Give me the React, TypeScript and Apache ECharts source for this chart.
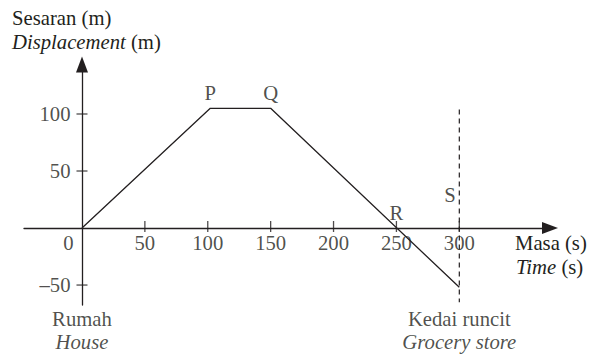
import React, { useEffect, useRef } from "react";
import * as echarts from "echarts";

// Displacement–time data (s, m)
const pathPoints: [number, number][] = [
  [0, 0],
  [102, 105],
  [150, 105],
  [300, -52],
];
const storeLine: [number, number][] = [
  [300, 104],
  [300, -65],
];
const xTickValues = [50, 100, 150, 200, 250, 300];
const originLabel = [0];
const yTickValues = [-50, 50, 100];
const topLabels: { name: string; value: [number, number] }[] = [
  { name: "P", value: [102, 105] },
  { name: "Q", value: [150, 105] },
  { name: "R", value: [250, 0] },
];
const sideLabels: { name: string; value: [number, number] }[] = [
  { name: "S", value: [300, 29] },
];
const placeNames: { name: string; value: [number, number] }[] = [
  { name: "Rumah", value: [0, -67.5] },
  { name: "Kedai runcit", value: [300, -65] },
];
const placeNamesEn: { name: string; value: [number, number] }[] = [
  { name: "House", value: [0, -67.5] },
  { name: "Grocery store", value: [300, -65] },
];

const FONT = "Liberation Serif";
const INK = "#231f20";
const CLEAR = "rgba(0,0,0,0)";

export default function App() {
  const ref = useRef<HTMLDivElement>(null);
  useEffect(() => {
    if (!ref.current) return;
    const chart = echarts.init(ref.current, undefined, { renderer: "svg" });
    const fs = 20.7;
    const lbl = { fontFamily: FONT, fontSize: fs, color: INK };
    const hidden = {
      type: "scatter",
      symbolSize: 1,
      itemStyle: { color: CLEAR },
      silent: true,
      z: 5,
    };
    const titleText = (text: string, left: number, top: number) => ({
      text,
      left,
      top,
      padding: 0,
      textStyle: {
        fontFamily: FONT,
        fontSize: fs,
        fontWeight: "normal",
        color: INK,
        rich: {
          i: { fontFamily: FONT, fontSize: fs, fontStyle: "italic", color: INK },
        },
      },
    });
    chart.setOption({
      animation: false,
      backgroundColor: "#ffffff",
      textStyle: { fontFamily: FONT, color: INK },
      title: [
        titleText("Sesaran (m)", 12, 7.5),
        titleText("{i|Displacement} (m)", 12, 31.5),
        titleText("Masa (s)", 515, 232.5),
        titleText("{i|Time} (s)", 516, 256.5),
      ],
      grid: {
        left: 24,
        right: 52,
        top: 64.5,
        bottom: 49,
        containLabel: false,
        outerBoundsMode: "none",
      },
      xAxis: {
        type: "value",
        min: -46.1,
        max: 372.1,
        axisLine: {
          onZero: true,
          symbol: ["none", "triangle"],
          symbolSize: [12, 16],
          lineStyle: { color: INK, width: 1.3 },
        },
        axisTick: { show: false },
        splitLine: { show: false },
        axisLabel: { show: false },
      },
      yAxis: {
        type: "value",
        min: -67.5,
        max: 143.4,
        axisLine: {
          onZero: true,
          symbol: ["none", "triangle"],
          symbolSize: [12, 16],
          lineStyle: { color: INK, width: 1.3 },
        },
        axisTick: { show: false },
        splitLine: { show: false },
        axisLabel: { show: false },
      },
      series: [
        {
          type: "line",
          data: pathPoints,
          symbol: "none",
          lineStyle: { color: INK, width: 1.3 },
          z: 3,
        },
        {
          type: "line",
          data: storeLine,
          symbol: "none",
          lineStyle: { color: INK, width: 1.2, type: [5, 4] },
          z: 3,
        },
        // x ticks
        {
          type: "scatter",
          data: xTickValues.map((v) => [v, 0]),
          symbol: "rect",
          symbolSize: [1.3, 11],
          symbolOffset: [0, -1.5],
          itemStyle: { color: INK },
          silent: true,
          z: 4,
        },
        // y ticks
        {
          type: "scatter",
          data: yTickValues.map((v) => [0, v]),
          symbol: "rect",
          symbolSize: [11, 1.3],
          itemStyle: { color: INK },
          silent: true,
          z: 4,
        },
        // x tick labels
        {
          ...hidden,
          data: xTickValues.map((v) => [v, 0]),
          label: {
            show: true,
            ...lbl,
            position: "bottom",
            distance: 4,
            formatter: (p: any) => String(p.value[0]),
          },
          labelLayout: { hideOverlap: false },
        },
        // origin label
        {
          ...hidden,
          data: originLabel.map((v) => [v, 0]),
          label: {
            show: true,
            ...lbl,
            position: "bottom",
            distance: 4,
            formatter: (p: any) => String(p.value[0]),
          },
          labelLayout: { dx: -13.5, hideOverlap: false },
        },
        // y tick labels
        {
          ...hidden,
          data: yTickValues.map((v) => [0, v]),
          label: {
            show: true,
            ...lbl,
            position: "left",
            distance: 11,
            formatter: (p: any) => {
              const v = p.value[1];
              return v < 0 ? "–" + Math.abs(v) : String(v);
            },
          },
          labelLayout: { hideOverlap: false },
        },
        // point letters above
        {
          ...hidden,
          data: topLabels.map((p) => ({ name: p.name, value: p.value })),
          label: {
            show: true,
            ...lbl,
            formatter: "{b}",
            position: "top",
            distance: 4,
          },
          labelLayout: { hideOverlap: false },
        },
        // point letter left of dashed line
        {
          ...hidden,
          data: sideLabels.map((p) => ({ name: p.name, value: p.value })),
          label: {
            show: true,
            ...lbl,
            formatter: "{b}",
            position: "left",
            distance: 3,
          },
          labelLayout: { hideOverlap: false },
        },
        // place names (Malay) under the axis ends
        {
          ...hidden,
          data: placeNames.map((p) => ({ name: p.name, value: p.value })),
          label: {
            show: true,
            ...lbl,
            formatter: "{b}",
            position: "bottom",
            distance: 3,
          },
          labelLayout: (p: any) => ({ hideOverlap: false, dy: p.dataIndex === 1 ? 3 : 0 }),
        },
        // place names (English, italic)
        {
          ...hidden,
          data: placeNamesEn.map((p) => ({ name: p.name, value: p.value })),
          label: {
            show: true,
            ...lbl,
            fontStyle: "italic",
            formatter: "{b}",
            position: "bottom",
            distance: 26,
          },
          labelLayout: (p: any) => ({ hideOverlap: false, dy: p.dataIndex === 1 ? 3 : 0 }),
        },
      ],
    });
    return () => chart.dispose();
  }, []);
  return (
    <div
      ref={ref}
      style={{ position: "absolute", left: 0, top: 0, width: 602, height: 354 }}
    />
  );
}
